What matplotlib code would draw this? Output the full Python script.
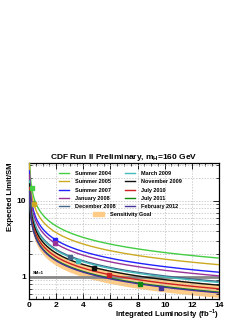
import numpy as np
import matplotlib
matplotlib.use("Agg")
import matplotlib.pyplot as plt
from matplotlib.patches import Patch
from matplotlib.ticker import FixedLocator, NullFormatter, MultipleLocator

plt.rcParams['font.family'] = ['Liberation Sans', 'DejaVu Sans']

# Data: each era's projection scaling (limit at 1 fb^-1) and its measured point
eras = ["Summer 2004", "Summer 2005", "Summer 2007", "January 2008", "December 2008",
        "March 2009", "November 2009", "July 2010", "July 2011", "February 2012"]
scale_1fb = [6.6, 5.4, 4.3, 3.85, 3.25, 3.15, 2.9, 2.6, 2.35, 2.3]
point_lumi = [0.2, 0.35, 1.9, 1.9, 3.0, 3.6, 4.8, 5.9, 8.2, 9.7]
point_limit = [15.0, 9.1, 3.1, 2.8, 1.8, 1.6, 1.3, 1.05, 0.81, 0.71]
colors = ["#44cc44", "#ccaa22", "#2222ff", "#993399", "#446688",
          "#44bbbb", "#111111", "#cc2222", "#118811", "#443399"]
band_scale_hi = 3.0
band_scale_lo = 2.0
xticks = [0, 2, 4, 6, 8, 10, 12, 14]

fig = plt.figure(figsize=(2.49, 3.23), dpi=100)
ax = fig.add_axes([0.1165, 0.0743, 0.763, 0.4211])

L = np.linspace(0.03, 14, 600)
ax.fill_between(L, band_scale_lo / np.sqrt(L), band_scale_hi / np.sqrt(L),
                color="#ffcc88", lw=0, zorder=1)
ax.axhline(1.0, color="#888888", lw=2.0, zorder=2)

handles = []
for name, a, c in zip(eras, scale_1fb, colors):
    h, = ax.plot(L, a / np.sqrt(L), color=c, lw=1.0, zorder=3, label=name)
    handles.append(h)
for x, y, c in zip(point_lumi, point_limit, colors):
    ax.plot([x], [y], marker='s', ms=3, color=c, zorder=4, ls='none')

ax.set_yscale('log')
ax.set_xlim(0, 14)
ax.set_ylim(0.51, 31.6)
ax.xaxis.set_major_locator(FixedLocator(xticks))
ax.xaxis.set_minor_locator(MultipleLocator(0.5))
ax.set_yticks([1, 10])
ax.set_yticklabels(["1", "10"])
ax.yaxis.set_minor_formatter(NullFormatter())
ax.tick_params(which='both', direction='in', top=True, right=True, labelsize=6)
ax.tick_params(which='major', length=4, width=0.6, pad=2)
ax.tick_params(which='minor', length=2, width=0.5)
for lab in ax.get_xticklabels() + ax.get_yticklabels():
    lab.set_fontweight('bold')
ax.grid(True, which='major', axis='x', ls=(0, (2, 2)), color='#bbbbbb', lw=0.5)
ax.grid(True, which='both', axis='y', ls=(0, (2, 2)), color='#bbbbbb', lw=0.5)
for s in ax.spines.values():
    s.set_linewidth(0.9)

ax.set_title("CDF Run II Preliminary, m$_\\mathregular{H}$=160 GeV", fontsize=6,
             fontweight='bold', pad=3)
ax.set_xlabel("Integrated Luminosity (fb$^\\mathregular{-1}$)", fontsize=5.6,
              fontweight='bold', loc='right', labelpad=-1)
ax.set_ylabel("Expected Limit/SM", fontsize=5.6, fontweight='bold', loc='top',
              labelpad=2)
ax.text(0.25, 1.06, "SM=1", fontsize=3, fontweight='bold', va='bottom')

leg1 = ax.legend(handles=handles, ncol=2, loc='upper left',
                 bbox_to_anchor=(59 / 249, 1 - 171 / 323),
                 bbox_transform=fig.transFigure, frameon=False,
                 prop={'size': 4, 'weight': 'bold'}, handlelength=1.8,
                 handletextpad=1.0, columnspacing=1.8, labelspacing=0.6,
                 borderpad=0, borderaxespad=0)
ax.add_artist(leg1)
ax.legend(handles=[Patch(color="#ffcc88", label="Sensitivity Goal")],
          loc='upper left', bbox_to_anchor=(93 / 249, 1 - 212 / 323),
          bbox_transform=fig.transFigure, frameon=False,
          prop={'size': 4, 'weight': 'bold'}, handlelength=2.0,
          handletextpad=1.0, borderpad=0, borderaxespad=0)

fig.savefig("out.png", dpi=100)
